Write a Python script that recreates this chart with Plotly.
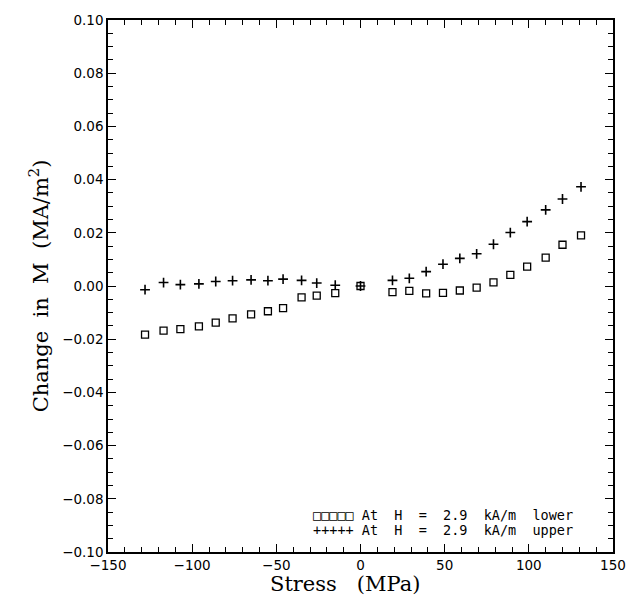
import plotly.graph_objects as go

stress = [-128, -117, -107, -96, -86, -76, -65, -55, -46, -35, -26, -15, 0,
          19, 29, 39, 49, 59, 69, 79, 89, 99, 110, 120, 131]
lower = [-0.0183, -0.0168, -0.0162, -0.0152, -0.0138, -0.0122, -0.0107, -0.0095,
         -0.0083, -0.0043, -0.0036, -0.0027, 0.0,
         -0.0023, -0.0018, -0.0028, -0.0026, -0.0017, -0.0006, 0.0014, 0.0042,
         0.0073, 0.0107, 0.0155, 0.0190]
upper = [-0.0014, 0.0013, 0.0005, 0.0008, 0.0017, 0.0020, 0.0023, 0.0020,
         0.0026, 0.0021, 0.0011, 0.0003, 0.0,
         0.0021, 0.0029, 0.0054, 0.0082, 0.0104, 0.0121, 0.0157, 0.0201,
         0.0242, 0.0286, 0.0327, 0.0373]
legend_lines = ["\u25a1\u25a1\u25a1\u25a1\u25a1 At  H  =  2.9  kA/m  lower",
                "+++++ At  H  =  2.9  kA/m  upper"]
x_title = "Stress   (MPa)"
y_title = "Change  in  M  (MA/m<sup>2</sup>)"

fig = go.Figure()
fig.add_trace(go.Scatter(x=stress, y=lower, mode="markers", name="lower",
                         marker=dict(symbol="square-open", size=7,
                                     color="black", line=dict(width=1.3))))
fig.add_trace(go.Scatter(x=stress, y=upper, mode="markers", name="upper",
                         marker=dict(symbol="cross-thin-open", size=7,
                                     color="black", line=dict(width=1.6, color="black"))))

tickfont = dict(family="DejaVu Sans", size=13.5, color="black")
fig.update_xaxes(range=[-150, 150], tickvals=[-150, -100, -50, 0, 50, 100, 150],
                 ticktext=["\u2212150", "\u2212100", "\u221250", "0", "50", "100", "150"],
                 ticks="inside", ticklen=8, tickwidth=1, tickcolor="black",
                 minor=dict(dtick=10, tick0=0, ticks="inside", ticklen=5, tickcolor="black"),
                 showline=True, linecolor="black", linewidth=1.5, mirror="ticks",
                 showgrid=False, zeroline=False, tickfont=tickfont)
yt = [-0.10, -0.08, -0.06, -0.04, -0.02, 0.0, 0.02, 0.04, 0.06, 0.08, 0.10]
fig.update_yaxes(range=[-0.10, 0.10], tickvals=yt,
                 ticktext=[("\u2212%.2f" % abs(v)) if v < 0 else "%.2f" % v for v in yt],
                 ticks="inside", ticklen=8, tickwidth=1, tickcolor="black",
                 minor=dict(dtick=0.005, tick0=0, ticks="inside", ticklen=5, tickcolor="black"),
                 showline=True, linecolor="black", linewidth=1.5, mirror="ticks",
                 showgrid=False, zeroline=False, tickfont=tickfont,
                 title=dict(text=y_title, standoff=8,
                            font=dict(family="DejaVu Serif", size=21, color="black")))

fig.add_annotation(xref="paper", yref="paper", x=0.470, y=-0.087, xanchor="center",
                   yanchor="bottom", showarrow=False, text=x_title,
                   font=dict(family="DejaVu Serif", size=21, color="black"))

for i, (line, yp) in enumerate(zip(legend_lines, [0.0693, 0.0412])):
    fig.add_annotation(xref="paper", yref="paper", x=0.4016, y=yp, xanchor="left",
                       yanchor="middle", showarrow=False, align="left", text=line,
                       font=dict(family="DejaVu Sans Mono", size=13.5, color="black"))

fig.update_layout(width=638, height=598, showlegend=False,
                  margin=dict(l=108, r=22, t=17, b=46),
                  plot_bgcolor="white", paper_bgcolor="white")
fig.write_html("out.html")
